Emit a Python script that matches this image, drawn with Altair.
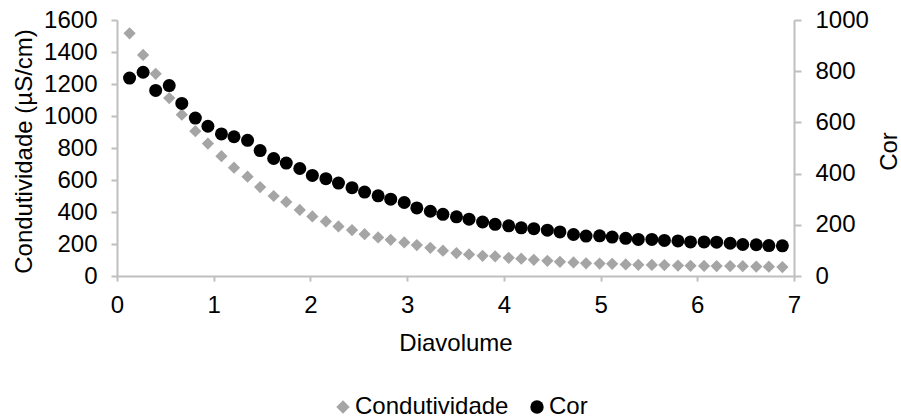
import altair as alt
import pandas as pd

diavolume = [0.13, 0.27, 0.40, 0.54, 0.67, 0.81, 0.94, 1.08, 1.21, 1.35,
             1.48, 1.62, 1.75, 1.89, 2.02, 2.16, 2.29, 2.43, 2.56, 2.70,
             2.83, 2.97, 3.10, 3.24, 3.37, 3.51, 3.64, 3.78, 3.91, 4.05,
             4.18, 4.31, 4.45, 4.58, 4.72, 4.85, 4.99, 5.12, 5.26, 5.39,
             5.53, 5.66, 5.80, 5.93, 6.07, 6.20, 6.34, 6.47, 6.61, 6.74, 6.88]

condutividade = [1517, 1382, 1264, 1112, 1008, 905, 828, 749, 677, 621,
                 556, 500, 463, 413, 372, 341, 310, 287, 261, 241,
                 226, 210, 193, 176, 158, 143, 135, 126, 123, 114,
                 108, 101, 95, 89, 85, 79, 78, 76, 72, 70,
                 69, 68, 65, 64, 63, 62, 62, 61, 59, 58, 56]

cor = [773, 796, 725, 744, 674, 617, 585, 555, 544, 530,
       490, 459, 441, 420, 393, 380, 363, 345, 328, 313,
       300, 287, 266, 253, 241, 231, 222, 211, 202, 196,
       188, 185, 179, 172, 162, 156, 157, 152, 147, 143,
       143, 139, 137, 133, 133, 132, 128, 123, 122, 119, 118]

series_names = ["Condutividade", "Cor"]
series_colors = ["#A5A5A5", "#000000"]
series_shapes = ["diamond", "circle"]
x_ticks = [0, 1, 2, 3, 4, 5, 6, 7]
left_ticks = [0, 200, 400, 600, 800, 1000, 1200, 1400, 1600]
right_ticks = [0, 200, 400, 600, 800, 1000]

df_c = pd.DataFrame({"Diavolume": diavolume, "valor": condutividade, "serie": series_names[0]})
df_r = pd.DataFrame({"Diavolume": diavolume, "valor": cor, "serie": series_names[1]})

FONT = "Liberation Sans"
AX = "#BFBFBF"
TXT = "#000000"

legend = alt.Legend(
    title=None, orient="none", direction="horizontal",
    legendX=214, legendY=375, padding=0,
    labelFontSize=24, labelFont=FONT, labelColor=TXT,
    symbolSize=180, labelOffset=0, columnPadding=16,
    symbolStrokeWidth=0,
)

x_enc = alt.X(
    "Diavolume:Q",
    scale=alt.Scale(domain=[0, 7], nice=False, zero=False),
    axis=alt.Axis(values=x_ticks, title="Diavolume", format="d", labelFlush=False,
                  tickSize=5, labelPadding=12, titlePadding=14),
)

color_enc = alt.Color("serie:N", scale=alt.Scale(domain=series_names, range=series_colors), legend=legend)
shape_enc = alt.Shape("serie:N", scale=alt.Scale(domain=series_names, range=series_shapes), legend=legend)

layer_c = alt.Chart(df_c).mark_point(filled=True, opacity=1, size=150).encode(
    x=x_enc,
    y=alt.Y("valor:Q",
            scale=alt.Scale(domain=[0, 1600], nice=False),
            axis=alt.Axis(values=left_ticks, title="Condutividade (µS/cm)", orient="left",
                          format="d", tickSize=6, labelPadding=14,
                          titleX=-93, titleY=131, titleAngle=270,
                          titleBaseline="middle", titleAlign="center")),
    color=color_enc,
    shape=shape_enc,
)

layer_r = alt.Chart(df_r).mark_point(filled=True, opacity=1, size=169).encode(
    x=x_enc,
    y=alt.Y("valor:Q",
            scale=alt.Scale(domain=[0, 1000], nice=False),
            axis=alt.Axis(values=right_ticks, title="Cor", orient="right",
                          format="d", tickSize=7, labelPadding=14,
                          titleX=95, titleY=131, titleAngle=270,
                          titleBaseline="middle", titleAlign="center")),
    color=color_enc,
    shape=shape_enc,
)

chart = alt.layer(layer_c, layer_r).resolve_scale(y="independent").properties(
    width=677, height=256,
    background="white",
    autosize=alt.AutoSizeParams(type="none"),
    padding={"left": 117, "top": 20, "right": 107, "bottom": 143},
).configure_view(stroke=None).configure_axis(
    grid=False,
    domainColor=AX, tickColor=AX, domainWidth=2, tickWidth=2,
    labelFont=FONT, labelFontSize=24, labelColor=TXT,
    titleFont=FONT, titleFontSize=24, titleColor=TXT, titleFontWeight="normal",
)

chart.save("out.html", embed_options={"renderer": "svg", "actions": False})
